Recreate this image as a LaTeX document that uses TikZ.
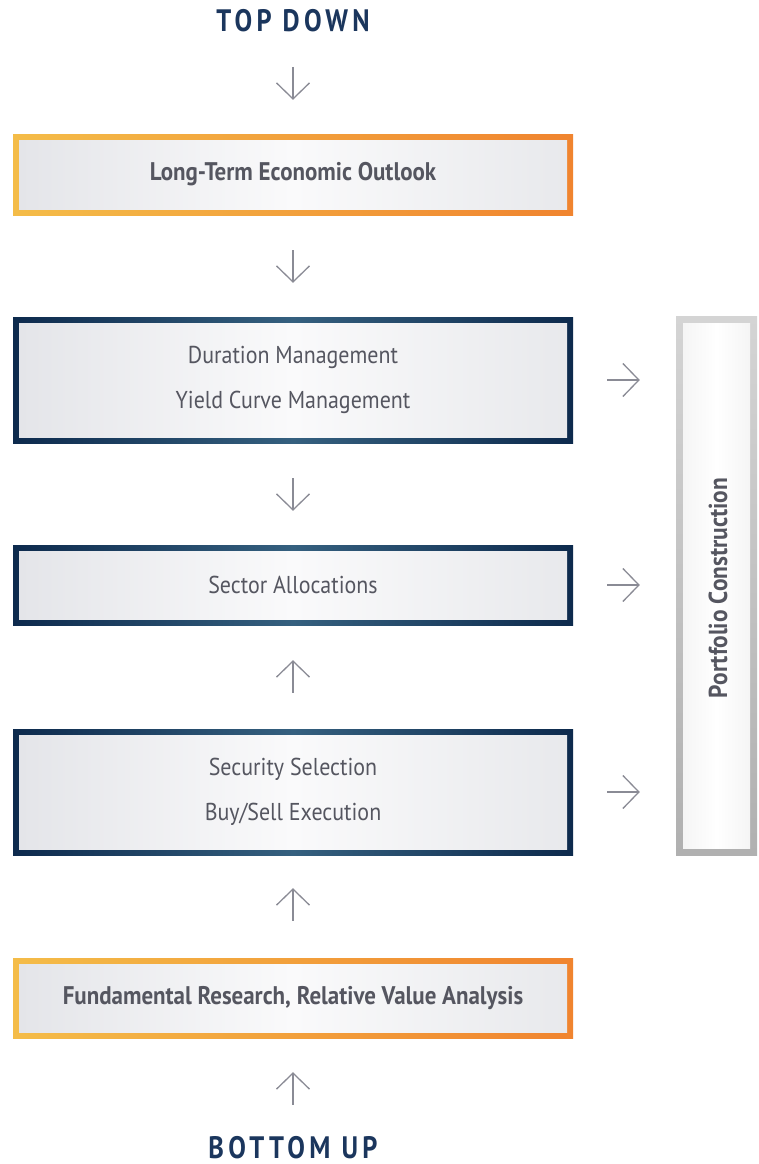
\documentclass[tikz,border=0pt]{standalone}
\usepackage{fontspec}
\setmainfont{PT Sans}
\newfontfamily\boxfont[FakeStretch=0.9]{PT Sans}
\newfontfamily\headfont[FakeStretch=0.85,LetterSpace=14]{PT Sans}
\usetikzlibrary{arrows.meta}
\definecolor{navy}{HTML}{0D2A4D}
\definecolor{navymid}{HTML}{35607F}
\definecolor{headnavy}{HTML}{1B365D}
\definecolor{oL}{HTML}{F4BC48}
\definecolor{oR}{HTML}{F0842F}
\definecolor{inL}{HTML}{E4E5E9}
\definecolor{inM}{HTML}{FAFAFB}
\definecolor{inR}{HTML}{E8E9EC}
\definecolor{txt}{HTML}{555660}
\definecolor{arrgray}{HTML}{8A8B95}
\definecolor{pcT}{HTML}{D4D4D4}
\definecolor{pcB}{HTML}{B0B0B0}
\begin{document}
\begin{tikzpicture}[x=1pt,y=-1pt,
  innerfill/.style={left color=inL, right color=inR, middle color=inM},
  obox/.style={minimum width=560pt, inner sep=0pt, text=txt, align=center,
    font=\boxfont\fontsize{25.5}{28}\selectfont\bfseries,
    path picture={
      \shade[left color=oL, right color=oR] (path picture bounding box.south west) rectangle (path picture bounding box.north east);
      \shade[innerfill] ([xshift=6pt,yshift=6pt]path picture bounding box.south west) rectangle ([xshift=-6pt,yshift=-6pt]path picture bounding box.north east);
    }},
  nbox/.style={minimum width=560pt, inner sep=0pt, text=txt, align=center,
    font=\boxfont\fontsize{24.4}{45}\selectfont,
    path picture={
      \shade[left color=navy, right color=navy, middle color=navymid] (path picture bounding box.south west) rectangle (path picture bounding box.north east);
      \shade[innerfill] ([xshift=6pt,yshift=6pt]path picture bounding box.south west) rectangle ([xshift=-6pt,yshift=-6pt]path picture bounding box.north east);
    }},
  pbox/.style={minimum width=81pt, minimum height=539pt, inner sep=0pt, text=txt,
    path picture={
      \shade[top color=pcT, bottom color=pcB] (path picture bounding box.south west) rectangle (path picture bounding box.north east);
      \shade[left color=white!96!black, right color=white!96!black, middle color=white] ([xshift=7pt,yshift=7pt]path picture bounding box.south west) rectangle ([xshift=-7pt,yshift=-7pt]path picture bounding box.north east);
    }},
  head/.style={inner sep=0pt, text=headnavy, anchor=base,
    font=\headfont\fontsize{31}{32}\selectfont\bfseries},
  arr/.style={draw=arrgray, line width=1.3pt, -{Straight Barb[length=16pt,width=33pt]}}
]
\useasboundingbox (0,0) rectangle (759,1164);
\fill[white] (0,0) rectangle (759,1164);

\node[head] (top) at (293,32) {TOP DOWN};
\node[head] (bottom) at (293,1158) {BOTTOM UP};

\node[obox, minimum height=81pt] (b1) at (293,174.5) {Long-Term Economic Outlook};
\node[nbox, minimum height=126pt] (b2) at (293,380) {Duration Management\\Yield Curve Management};
\node[nbox, minimum height=80pt] (b3) at (293,585) {Sector Allocations};
\node[nbox, minimum height=126pt] (b4) at (293,792) {Security Selection\\Buy/Sell Execution};
\node[obox, minimum height=80pt] (b5) at (293,998) {Fundamental Research, Relative Value Analysis};

\node[pbox] (pc) at (716.5,585.5) {};
\node[rotate=90, text=txt, font=\boxfont\fontsize{26}{28}\selectfont\bfseries] (pct) at (718,588) {Portfolio Construction};

\draw[arr, shorten <=35pt, shorten >=34pt] (top.base) -- (b1);
\draw[arr, shorten <=35pt, shorten >=34pt] (b1) -- (b2);
\draw[arr, shorten <=35pt, shorten >=34pt] (b2) -- (b3);
\draw[arr, shorten <=36pt, shorten >=35pt] (b4) -- (b3);
\draw[arr, shorten <=37pt, shorten >=33pt] (b5) -- (b4);
\draw[arr, shorten <=31pt, shorten >=34pt] (bottom.north) -- (b5);

\draw[arr, shorten <=34pt, shorten >=36pt] (b2.east) -- (b2.east -| pc.west);
\draw[arr, shorten <=34pt, shorten >=36pt] (b3.east) -- (b3.east -| pc.west);
\draw[arr, shorten <=34pt, shorten >=36pt] (b4.east) -- (b4.east -| pc.west);
\end{tikzpicture}
\end{document}
